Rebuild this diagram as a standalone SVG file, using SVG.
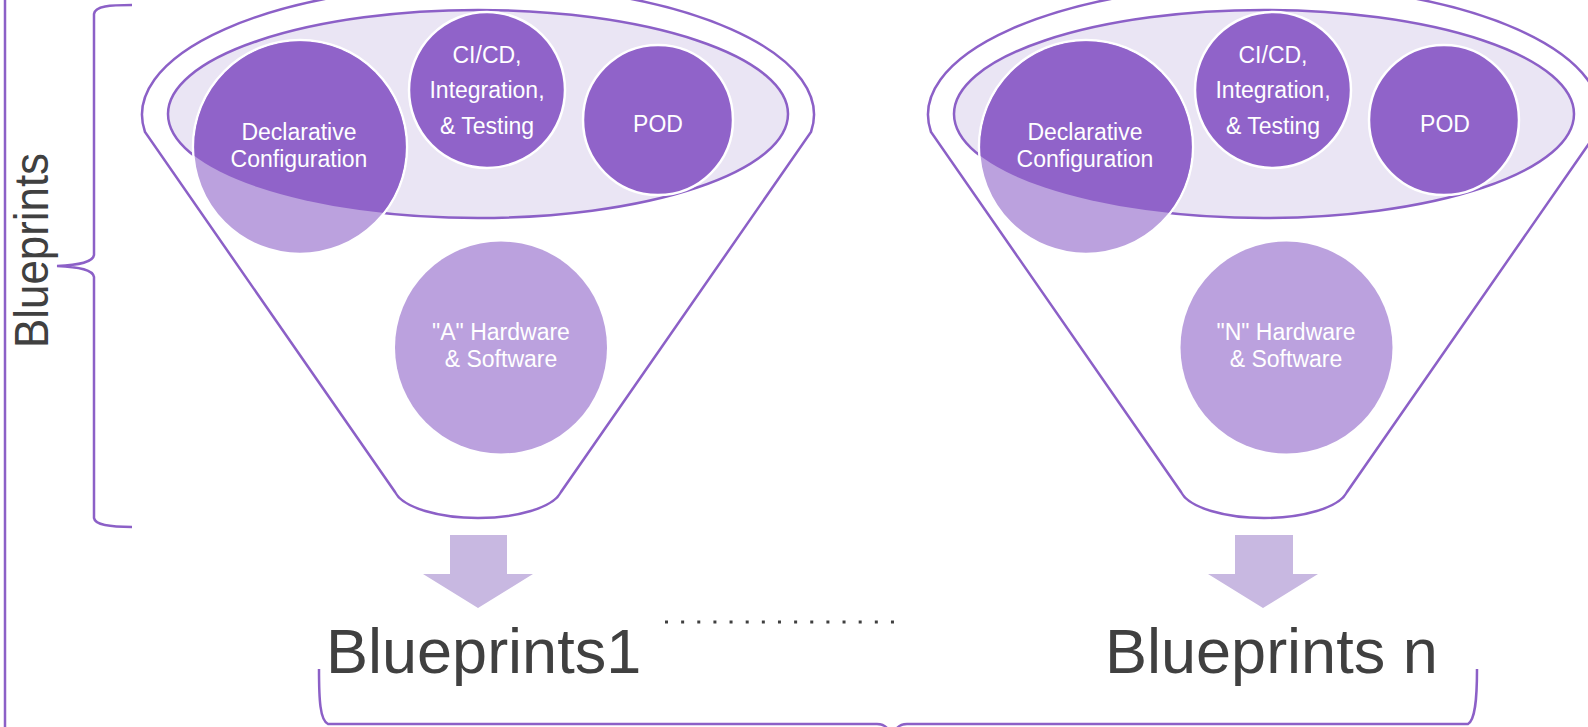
<svg xmlns="http://www.w3.org/2000/svg" width="1588" height="727" viewBox="0 0 1588 727">
<style>
.ln{fill:none;stroke:#8C60C7;stroke-width:2.5}
.fun{fill:#FFFFFF;stroke:#8C60C7;stroke-width:2.5}
.ell{fill:#EAE5F4;stroke:#8C60C7;stroke-width:2.5}
.dk{fill:#9063C9;stroke:#FFFFFF;stroke-width:2.5}
.dkn{fill:#9063C9}
.lt{fill:#BBA1DE}
.ltw{fill:#BBA1DE;stroke:#FFFFFF;stroke-width:2.5}
.arr{fill:#C8B8E1}
.wt{font-family:"Liberation Sans",Arial,sans-serif;font-size:23px;fill:#FFFFFF;text-anchor:middle}
.big{font-family:"Liberation Sans",Arial,sans-serif;font-size:63px;fill:#404040}
</style>
<defs>
<clipPath id="clipL"><ellipse cx="478" cy="114" rx="310" ry="104"/></clipPath>
<clipPath id="clipR"><ellipse cx="1264" cy="114" rx="310" ry="104"/></clipPath>
</defs>

<g id="connectors">
<line class="ln" x1="5" y1="-5" x2="5" y2="732"/>
<path class="ln" d="M132,5 C110,5 95,6 94,14 L94,255 C93,262 80,265 57,266 C80,267 93,270 94,277 L94,518 C95,525 110,527 132,527"/>
<path class="ln" d="M319,669 C319,700 320,720 328,724 L877,724 C885,724 890,728 892,740 C894,728 899,724 907,724 L1468,724 C1475,720 1477,700 1477,669"/>
<line x1="665" y1="622" x2="894" y2="622" stroke="#404040" stroke-width="3" stroke-dasharray="3 13.14"/>
</g>

<g id="label-blueprints-vertical">
<text transform="translate(48,348) rotate(-90)" font-family="Liberation Sans, Arial, sans-serif" font-size="48" fill="#404040" textLength="195" lengthAdjust="spacingAndGlyphs">Blueprints</text>
</g>

<g id="funnel-1">
<path class="fun" d="M145,132 A336 130 0 1 1 811,132 L561,492 C553,508 516,518 478,518 C440,518 403,508 395,492 Z"/>
<ellipse class="ell" cx="478" cy="114" rx="310" ry="104"/>
<g id="declarative-1">
<circle class="ltw" cx="300" cy="147" r="107"/>
<circle class="dkn" cx="300" cy="147" r="105.8" clip-path="url(#clipL)"/>
<text class="wt" x="299" y="140">Declarative</text>
<text class="wt" x="299" y="167">Configuration</text>
</g>
<g id="cicd-1">
<circle class="dk" cx="487" cy="90" r="78"/>
<text class="wt" x="487" y="63">CI/CD,</text>
<text class="wt" x="487" y="98">Integration,</text>
<text class="wt" x="487" y="134">&amp; Testing</text>
</g>
<g id="pod-1">
<circle class="dk" cx="658" cy="120" r="75"/>
<text class="wt" x="658" y="132">POD</text>
</g>
<g id="hw-1">
<circle class="lt" cx="501" cy="347.5" r="106"/>
<text class="wt" x="501" y="340">"A" Hardware</text>
<text class="wt" x="501" y="367">&amp; Software</text>
</g>
</g>

<g id="funnel-n">
<path class="fun" d="M931,132 A336 130 0 1 1 1597,132 L1347,492 C1339,508 1302,518 1264,518 C1226,518 1189,508 1181,492 Z"/>
<ellipse class="ell" cx="1264" cy="114" rx="310" ry="104"/>
<g id="declarative-n">
<circle class="ltw" cx="1086" cy="147" r="107"/>
<circle class="dkn" cx="1086" cy="147" r="105.8" clip-path="url(#clipR)"/>
<text class="wt" x="1085" y="140">Declarative</text>
<text class="wt" x="1085" y="167">Configuration</text>
</g>
<g id="cicd-n">
<circle class="dk" cx="1273" cy="90" r="78"/>
<text class="wt" x="1273" y="63">CI/CD,</text>
<text class="wt" x="1273" y="98">Integration,</text>
<text class="wt" x="1273" y="134">&amp; Testing</text>
</g>
<g id="pod-n">
<circle class="dk" cx="1444" cy="120" r="75"/>
<text class="wt" x="1445" y="132">POD</text>
</g>
<g id="hw-n">
<circle class="lt" cx="1286.5" cy="347.5" r="106"/>
<text class="wt" x="1286" y="340">"N" Hardware</text>
<text class="wt" x="1286" y="367">&amp; Software</text>
</g>
</g>

<g id="arrow-1">
<path class="arr" d="M450,535 L507,535 L507,574 L533,574 L478,608 L423,574 L450,574 Z"/>
</g>
<g id="arrow-n">
<path class="arr" d="M1235,535 L1293,535 L1293,574 L1318,574 L1263,608 L1208,574 L1235,574 Z"/>
</g>

<g id="blueprints-1">
<text class="big" x="326" y="673">Blueprints1</text>
</g>
<g id="blueprints-n">
<text class="big" x="1105" y="673">Blueprints n</text>
</g>
</svg>
